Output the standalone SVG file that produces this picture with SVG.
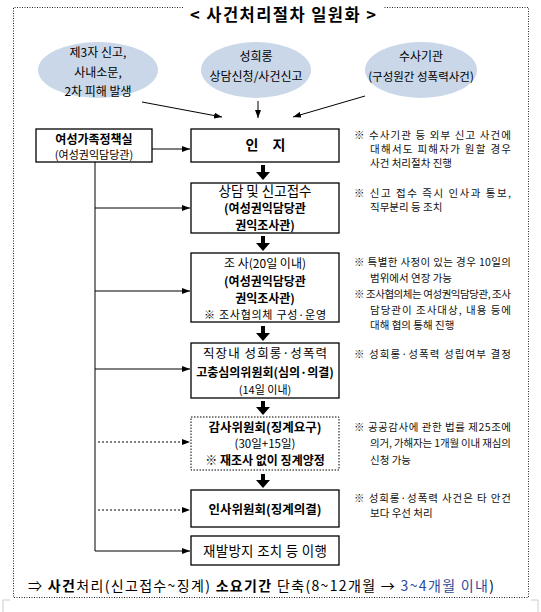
<svg xmlns="http://www.w3.org/2000/svg" width="541" height="612" viewBox="0 0 541 612">
<defs>
<marker id="ah" viewBox="0 0 8 6" refX="8" refY="3" markerWidth="8" markerHeight="6" markerUnits="userSpaceOnUse" orient="auto">
<path d="M0,0 L8,3 L0,6 z" fill="#000"/>
</marker>
<style>
text{font-family:"Noto Sans CJK KR","Noto Sans",sans-serif;fill:#000;}
.t{font-size:12px;text-anchor:middle;}
.b{font-weight:bold;}
.n{font-size:10.5px;fill:#111;}
.e{font-size:12px;text-anchor:middle;}
.box{fill:#fff;stroke:#000;stroke-width:1.3;}
.dbox{fill:#fff;stroke:#000;stroke-width:1;stroke-dasharray:1.5 1.5;}
.ell{fill:#c9d7e8;stroke:none;}
.ln{stroke:#000;stroke-width:1;fill:none;}
.dl{stroke:#000;stroke-width:1;fill:none;stroke-dasharray:2 2;}
.frame{stroke:#222;stroke-width:1;fill:none;stroke-dasharray:1 1.5;}
.thick{fill:#000;}
</style>
</defs>
<rect width="541" height="612" fill="#fff"/>
<g id="frame">
<path class="frame" d="M183,7.5 H13.5 V597.5 H528.5 V7.5 H383"/>
<path d="M3,612 V600 H10 M538,612 V600 H531" stroke="#ccc" stroke-width="1" fill="none"/>
</g>
<text x="283" y="21" style="font-size:16.5px;font-weight:bold;text-anchor:middle;" textLength="186" lengthAdjust="spacing">&lt; 사건처리절차 일원화 &gt;</text>

<g id="src1"><ellipse class="ell" cx="98" cy="70" rx="60" ry="28"/>
<text class="e" x="98" y="57">제3자 신고,</text><text class="e" x="98" y="77">사내소문,</text><text class="e" x="98" y="96">2차 피해 발생</text></g>
<g id="src2"><ellipse class="ell" cx="256" cy="70" rx="55" ry="28"/>
<text class="e" x="256" y="61">성희롱</text><text class="e" x="256" y="81">상담신청/사건신고</text></g>
<g id="src3"><ellipse class="ell" cx="421" cy="70" rx="56" ry="28"/>
<text class="e" x="421" y="61">수사기관</text><text class="e" x="421" y="81" style="font-size:11.5px">(구성원간 성폭력사건)</text></g>

<g id="org"><rect class="box" x="36" y="129" width="116" height="33"/>
<text class="t b" x="94" y="144">여성가족정책실</text><text class="t" x="94" y="159" style="font-size:11px">(여성권익담당관)</text></g>

<g id="n1"><rect class="box" x="191" y="129" width="148" height="33"/>
<text class="t b" x="252" y="150" style="font-size:14px">인</text><text class="t b" x="279" y="150" style="font-size:14px">지</text></g>
<g id="n2"><rect class="box" x="191" y="183" width="148" height="50"/>
<text class="t" x="265" y="196" style="font-size:13.5px">상담 및 신고접수</text>
<text class="t b" x="265" y="213">(여성권익담당관</text><text class="t b" x="265" y="230">권익조사관)</text></g>
<g id="n3"><rect class="box" x="191" y="253" width="148" height="69"/>
<text class="t" x="265" y="268">조 사(20일 이내)</text>
<text class="t b" x="265" y="286">(여성권익담당관</text><text class="t b" x="265" y="303">권익조사관)</text>
<text class="t" x="265" y="319" style="font-size:11px" textLength="122" lengthAdjust="spacing">※ 조사협의체 구성·운영</text></g>
<g id="n4"><rect class="box" x="191" y="343" width="148" height="55"/>
<text class="t" x="265" y="358" style="font-size:12.5px" textLength="124" lengthAdjust="spacing">직장내 성희롱·성폭력</text>
<text class="t b" x="265" y="377">고충심의위원회(심의·의결)</text>
<text class="t" x="265" y="394" style="font-size:11px">(14일 이내)</text></g>
<g id="n5"><rect class="dbox" x="191" y="417" width="148" height="53"/>
<text class="t b" x="265" y="432" style="font-size:12.5px">감사위원회(징계요구)</text>
<text class="t" x="265" y="448" style="font-size:11.5px">(30일+15일)</text>
<text class="t b" x="265" y="465">※ 재조사 없이 징계양정</text></g>
<g id="n6"><rect class="box" x="191" y="490" width="148" height="37"/>
<text class="t b" x="265" y="514" style="font-size:12.5px">인사위원회(징계의결)</text></g>
<g id="n7"><rect class="box" x="191" y="536" width="148" height="29"/>
<text class="t" x="265" y="556" style="font-size:13.5px" textLength="124" lengthAdjust="spacing">재발방지 조치 등 이행</text></g>

<g id="connectors">
<line class="ln" x1="142" y1="102" x2="222" y2="117" marker-end="url(#ah)"/>
<line class="ln" x1="258" y1="101" x2="258" y2="118" marker-end="url(#ah)"/>
<line class="ln" x1="365" y1="96" x2="293" y2="117" marker-end="url(#ah)"/>
<line class="ln" x1="152" y1="149" x2="190" y2="149" marker-end="url(#ah)"/>
<path class="ln" d="M95,162 V551 H190" marker-end="url(#ah)"/>
<line class="ln" x1="95" y1="208" x2="190" y2="208" marker-end="url(#ah)"/>
<line class="ln" x1="95" y1="291" x2="190" y2="291" marker-end="url(#ah)"/>
<line class="ln" x1="95" y1="369" x2="190" y2="369" marker-end="url(#ah)"/>
<line class="dl" x1="98" y1="442" x2="190" y2="442" marker-end="url(#ah)"/>
<line class="dl" x1="98" y1="510" x2="190" y2="510" marker-end="url(#ah)"/>
<path class="thick" d="M261,165 h4 v7 h5 l-7,8 l-7,-8 h5 z"/>
<path class="thick" d="M261,236 h4 v7 h5 l-7,8 l-7,-8 h5 z"/>
<path class="thick" d="M261,326 h4 v7 h5 l-7,8 l-7,-8 h5 z"/>
<path class="thick" d="M261,401 h4 v6 h5 l-7,8 l-7,-8 h5 z"/>
<path class="thick" d="M261,474 h4 v6 h5 l-7,8 l-7,-8 h5 z"/>
</g>

<g id="notes">
<text class="n" x="354" y="139" textLength="157" lengthAdjust="spacing">※ 수사기관 등 외부 신고 사건에</text>
<text class="n" x="370" y="153" textLength="141" lengthAdjust="spacing">대해서도 피해자가 원할 경우</text>
<text class="n" x="370" y="167">사건 처리절차 진행</text>
<text class="n" x="354" y="197" textLength="157" lengthAdjust="spacing">※ 신고 접수 즉시 인사과 통보,</text>
<text class="n" x="370" y="211">직무분리 등 조치</text>
<text class="n" x="354" y="266" textLength="157" lengthAdjust="spacing">※ 특별한 사정이 있는 경우 10일의</text>
<text class="n" x="370" y="282">범위에서 연장 가능</text>
<text class="n" x="354" y="298" textLength="157" lengthAdjust="spacing">※ 조사협의체는 여성권익담당관, 조사</text>
<text class="n" x="370" y="314" textLength="141" lengthAdjust="spacing">담당관이 조사대상, 내용 등에</text>
<text class="n" x="370" y="329">대해 협의 통해 진행</text>
<text class="n" x="354" y="358" textLength="157" lengthAdjust="spacing">※ 성희롱·성폭력 성립여부 결정</text>
<text class="n" x="354" y="431" textLength="157" lengthAdjust="spacing">※ 공공감사에 관한 법률 제25조에</text>
<text class="n" x="370" y="447" textLength="141" lengthAdjust="spacing">의거, 가해자는 1개월 이내 재심의</text>
<text class="n" x="370" y="464">신청 가능</text>
<text class="n" x="354" y="502" textLength="157" lengthAdjust="spacing">※ 성희롱·성폭력 사건은 타 안건</text>
<text class="n" x="370" y="517">보다 우선 처리</text>
</g>

<text x="28" y="591" style="font-size:14px" textLength="466" lengthAdjust="spacing">⇒ <tspan font-weight="bold">사건</tspan>처리(신고접수~징계) <tspan font-weight="bold">소요기간</tspan> 단축(8~12개월 → <tspan style="fill:#2b4a9a">3~4개월 이내</tspan>)</text>
</svg>
